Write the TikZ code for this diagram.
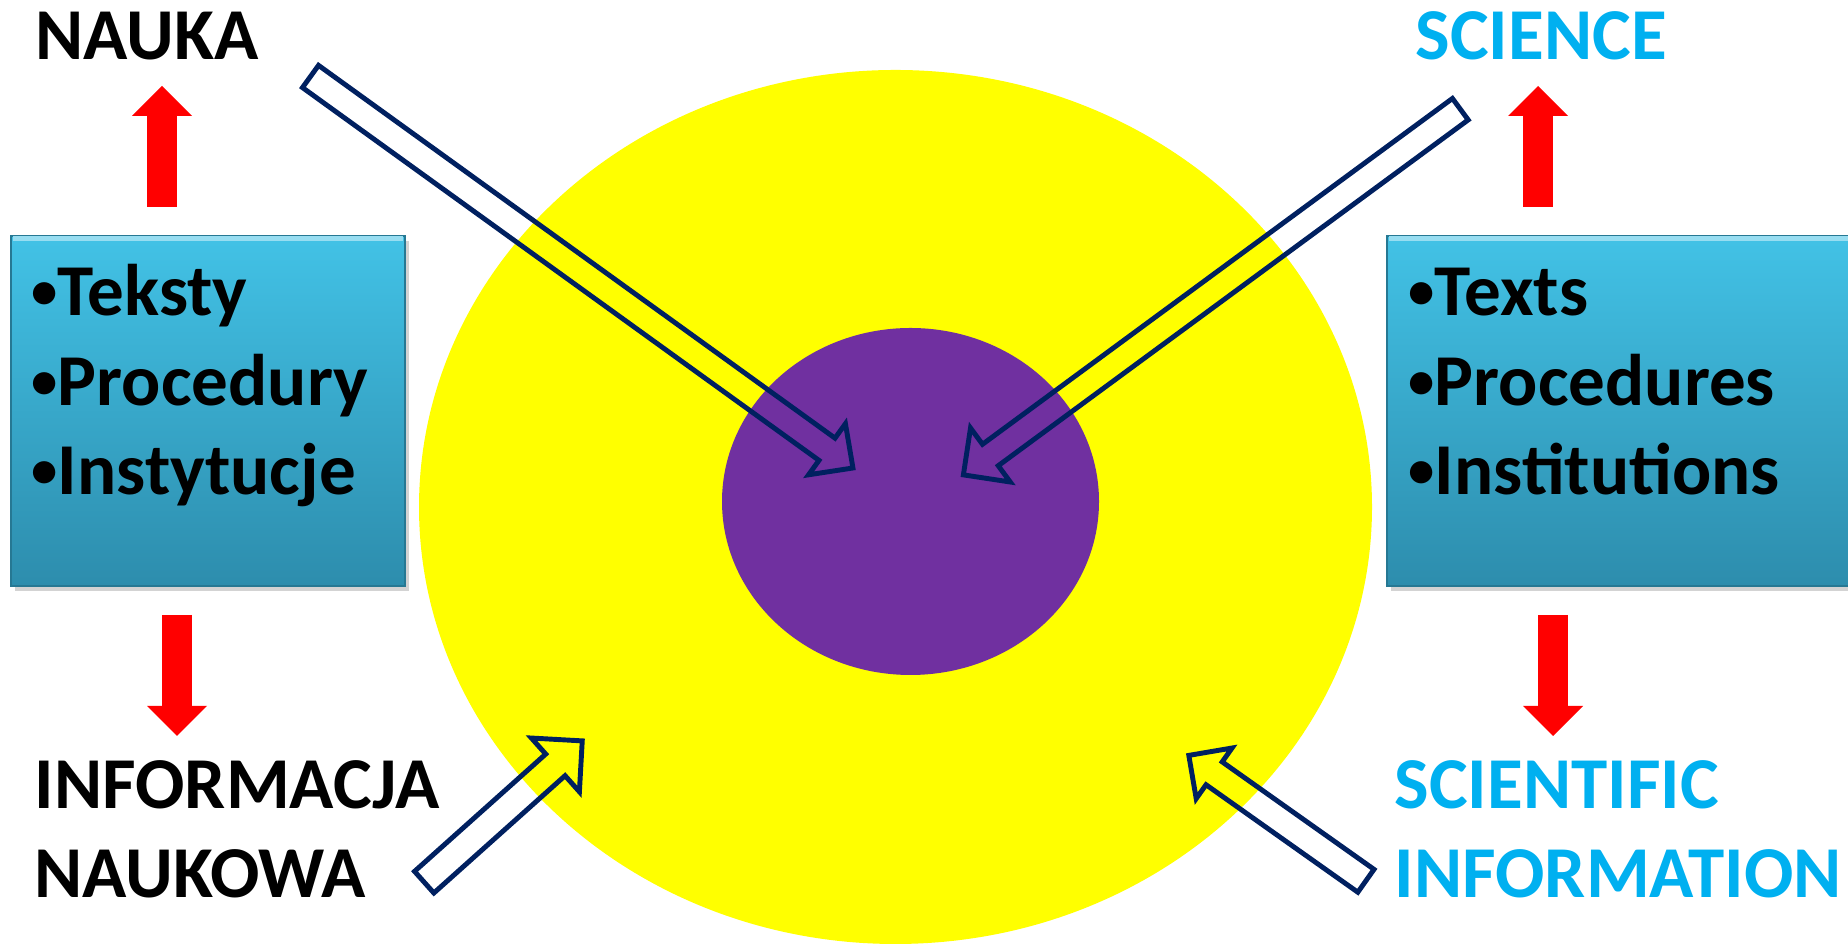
\documentclass[tikz,border=0pt]{standalone}
\usepackage{fontspec}
\setmainfont{Carlito}
\usepackage{tikz}
\usetikzlibrary{arrows.meta,positioning,calc,shapes.geometric,shadows}

\definecolor{sunyellow}{HTML}{FFFF00}
\definecolor{corepurple}{HTML}{7030A0}
\definecolor{navyline}{HTML}{002060}
\definecolor{skyblue}{HTML}{00B0F0}
\definecolor{boxtop}{HTML}{42C2E6}
\definecolor{boxbot}{HTML}{2D8DAD}

\newcommand{\listdot}{\raisebox{0.1em}{\scalebox{0.72}{•}}}

\begin{document}
\begin{tikzpicture}[
  blob/.style={ellipse, inner sep=0pt},
  panel/.style={rectangle, inner sep=0pt, top color=boxtop, bottom color=boxbot, draw=boxbot!85!black, line width=0.8pt, drop shadow={opacity=0.35, shadow xshift=0.04cm, shadow yshift=-0.05cm}},
  rim/.style={line width=1.6pt, color=boxtop!55!white},
  items/.style={align=left, inner sep=0pt, font=\bfseries\fontsize{20.8}{25.5}\selectfont},
  head/.style={align=left, inner sep=0pt, font=\bfseries\fontsize{20.8}{25.5}\selectfont},
  lift/.style={line width=0.3cm, red, -{Triangle[length=0.3cm, width=0.6cm, line width=0pt]}},
  hollow/.style={draw=navyline, line width=1.4pt, line join=miter}
]
  \useasboundingbox (0,0) rectangle (18.48,9.45);

  % Yellow field and purple core
  \node[blob, fill=sunyellow, minimum width=9.53cm, minimum height=8.74cm] (outer) at (8.955,4.38) {};
  \node[blob, fill=corepurple, minimum width=3.77cm, minimum height=3.47cm] (core) at (9.105,4.435) {};

  % Blue panels (left Polish, right English)
  \node[panel, minimum width=3.94cm, minimum height=3.50cm] (boxPL) at (2.08,5.34) {};
  \node[panel, minimum width=4.73cm, minimum height=3.50cm] (boxEN) at (16.235,5.34) {};
  \foreach \b in {boxPL,boxEN}
    \draw[rim] ([shift={(0.03,-0.04)}]\b.north west) -- ([shift={(-0.03,-0.04)}]\b.north east);
  \node[items, anchor=base west] (listPL) at (0.31,4.50) {\listdot Teksty\\\listdot Procedury\\\listdot Instytucje};
  \node[items, anchor=base west] (listEN) at (14.08,4.50) {\listdot Texts\\\listdot Procedures\\\listdot Institutions};

  % Headings
  \node[head, anchor=base west] (nauka) at (0.35,8.85) {NAUKA};
  \node[head, anchor=base west, text=skyblue] (science) at (14.15,8.85) {SCIENCE};
  \node[head, anchor=base west] (infoPL) at (0.34,0.47) {INFORMACJA\\NAUKOWA};
  \node[head, anchor=base west, text=skyblue] (infoEN) at (13.94,0.47) {SCIENTIFIC\\INFORMATION};

  % Red arrows from the panels to the headings
  \coordinate (upPL) at (1.62,7.38);   \coordinate (upPLtip) at (1.62,8.59);
  \coordinate (upEN) at (15.38,7.38);  \coordinate (upENtip) at (15.38,8.59);
  \coordinate (dnPL) at (1.77,3.30);   \coordinate (dnPLtip) at (1.77,2.09);
  \coordinate (dnEN) at (15.53,3.30);  \coordinate (dnENtip) at (15.53,2.09);
  \draw[lift] (upPL) -- (upPLtip);
  \draw[lift] (upEN) -- (upENtip);
  \draw[lift] (dnPL) -- (dnPLtip);
  \draw[lift] (dnEN) -- (dnENtip);

  % Hollow arrows: tail x/y, angle, length, half shaft, half head, head length
  \foreach \x/\y/\a/\l/\s/\w/\h in {
      3.105/8.685/-35.82/6.69/0.137/0.315/0.32,
      14.603/8.358/216.35/6.17/0.133/0.335/0.335,
      4.242/0.628/41.8/2.12/0.145/0.36/0.36,
      13.659/0.642/144.7/2.17/0.14/0.31/0.31}
    \draw[hollow, shift={(\x,\y)}, rotate=\a]
      (0,-\s) -- (\l-\h,-\s) -- (\l-\h,-\w) -- (\l,0) -- (\l-\h,\w) -- (\l-\h,\s) -- (0,\s) -- cycle;
\end{tikzpicture}
\end{document}
